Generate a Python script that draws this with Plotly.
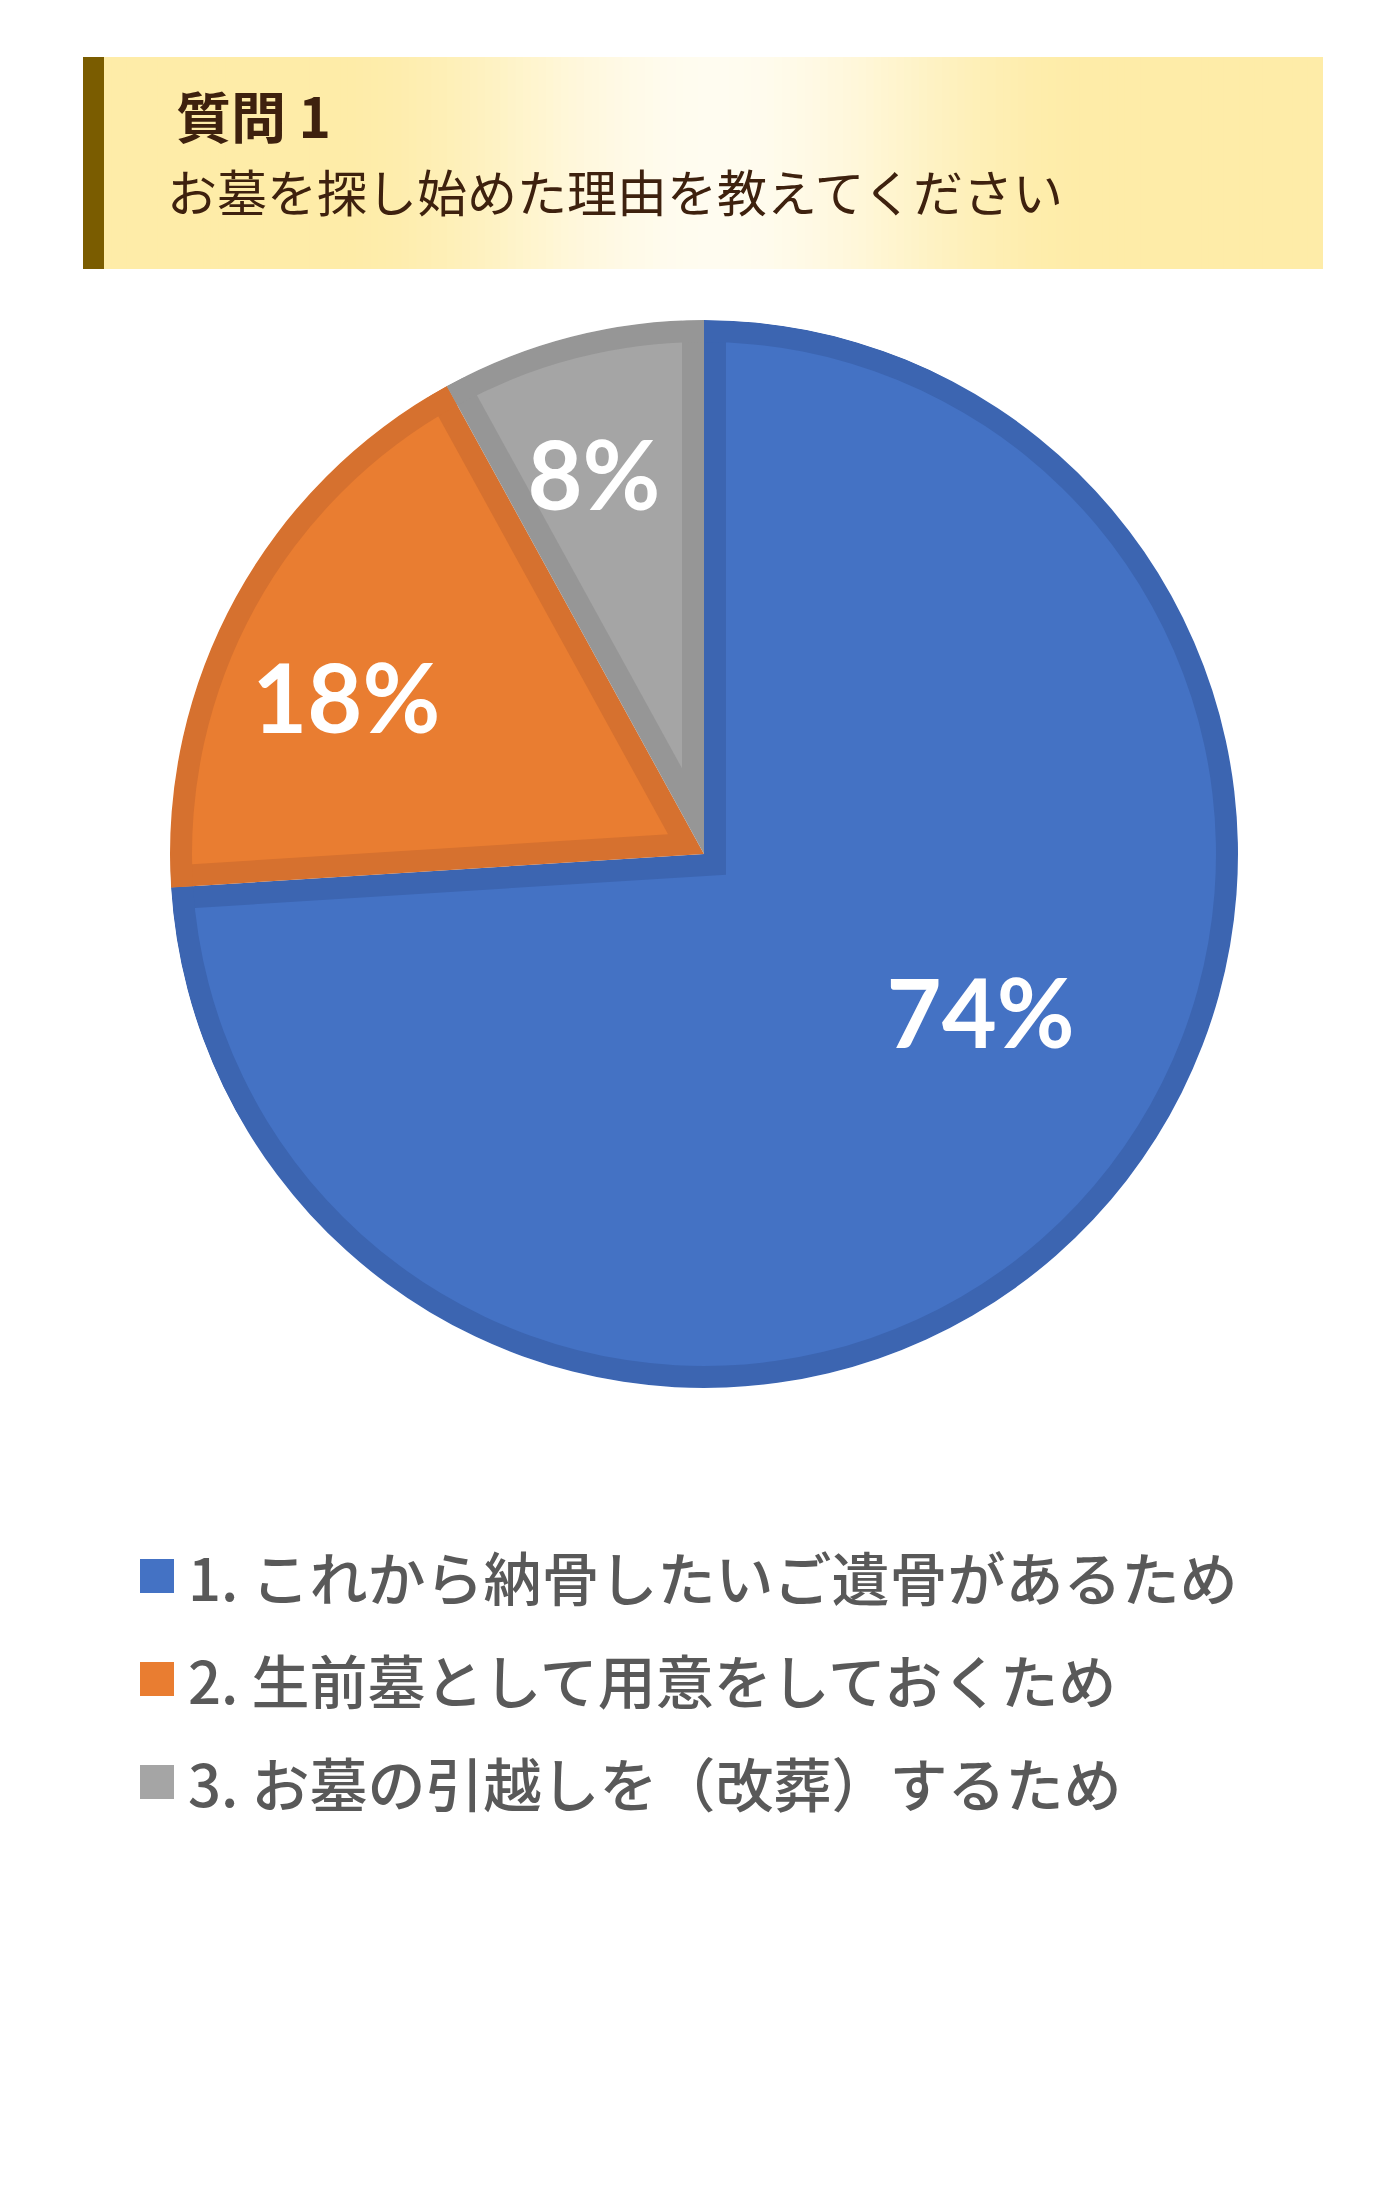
import math

import plotly.graph_objects as go

# ページは body の余白 8px 分ずれるので図を少し小さくして補正
PAGE_W, PAGE_H, BODY = 1400, 2197, 8
W, H = PAGE_W - 2 * BODY, PAGE_H - 2 * BODY

# === データ ===
labels = [
    "1. これから納骨したいご遺骨があるため",
    "2. 生前墓として用意をしておくため",
    "3. お墓の引越しを（改葬）するため",
]
values = [74, 18, 8]
pct_text = [f"{v}%" for v in values]

fill_colors = ["#4472c4", "#e97d31", "#a5a5a5"]
edge_colors = ["#3c65b1", "#d6712f", "#969696"]

title_main = "質問 1"
title_sub = "お墓を探し始めた理由を教えてください"

# === パイのジオメトリ (ページ上の px) ===
cx, cy, R, band = 704, 854, 534, 22
# ラベルの位置 (中心からの距離, 中央角からのずれ[度])
label_dist = [368, 391, 397]
label_turn = [-13.6, -5.0, -1.7]


def px(x):
    return (x - BODY) / W


def py(y):
    return 1 - (y - BODY) / H


def pie_domain(radius):
    return dict(x=[px(cx - radius), px(cx + radius)], y=[py(cy + radius), py(cy - radius)])


CLEAR = "rgba(0,0,0,0)"
n = len(values)
total = sum(values)
common = dict(
    values=values, labels=labels, sort=False, direction="clockwise",
    showlegend=False, hoverinfo="skip",
)

fig = go.Figure()

# (A) 縁取り用の濃い色のパイ
fig.add_trace(
    go.Pie(
        **common, rotation=0, textinfo="none",
        marker=dict(colors=edge_colors, line=dict(width=0)),
        domain=pie_domain(R),
    )
)

# (B) 明るい色のスライス: pull で内側へずらし、辺に沿った縁取りを作る
outer = R + 40
for i, v in enumerate(values):
    half = math.pi * v / total
    shift = band / math.sin(half)
    r_i = outer - shift
    fig.add_trace(
        go.Pie(
            **common, rotation=0, textinfo="none",
            marker=dict(
                colors=[fill_colors[i] if j == i else CLEAR for j in range(n)],
                line=dict(width=0),
            ),
            pull=[shift / r_i if j == i else 0 for j in range(n)],
            domain=pie_domain(outer),
        )
    )

# (C) 外周の縁取りリング
fig.add_trace(
    go.Pie(
        **common, rotation=0, textinfo="none", hole=(R - band) / R,
        marker=dict(colors=edge_colors, line=dict(width=0)),
        domain=pie_domain(R),
    )
)

# (D) はみ出しを隠す白いリング
fig.add_trace(
    go.Pie(
        **common, rotation=0, textinfo="none", hole=R / (R + 45),
        marker=dict(colors=["white"] * n, line=dict(width=0)),
        domain=pie_domain(R + 45),
    )
)

# (E) パーセント表示 (透明なスライスに文字だけ載せる)
for i, v in enumerate(values):
    half = math.pi * v / total
    r_ins = min(1 / (1 + 1 / math.sin(half)), 0.5)
    r_t = label_dist[i] / (1 - r_ins)
    fig.add_trace(
        go.Pie(
            **common, rotation=label_turn[i],
            marker=dict(colors=[CLEAR] * n, line=dict(width=0)),
            text=[pct_text[i] if j == i else "" for j in range(n)],
            textinfo="text",
            textposition=["inside" if j == i else "none" for j in range(n)],
            insidetextorientation="horizontal",
            textfont=dict(family="Lato", size=95, color="white", weight="bold"),
            domain=pie_domain(r_t),
        )
    )

# === ヘッダー (グラデーション帯) ===
shapes = []
box_x0, box_x1, box_y0, box_y1 = 104, 1323, 57, 269
mid = (box_x0 + box_x1) / 2
yellow = (254, 236, 168)
white = (255, 252, 240)
n_strips = 160
step = (box_x1 - box_x0) / n_strips
for k in range(n_strips):
    x0 = box_x0 + k * step
    xc = x0 + step / 2
    t = min(1.0, abs(xc - mid) / 380)
    t = t * t * (3 - 2 * t)
    c = tuple(round(white[m] * (1 - t) + yellow[m] * t) for m in range(3))
    shapes.append(
        dict(
            type="rect", xref="paper", yref="paper",
            x0=px(x0), x1=px(min(box_x1, x0 + step + 1)),
            y0=py(box_y1), y1=py(box_y0),
            fillcolor=f"rgb{c}", line=dict(width=0), layer="below",
        )
    )
shapes.append(
    dict(
        type="rect", xref="paper", yref="paper",
        x0=px(83), x1=px(box_x0), y0=py(box_y1), y1=py(box_y0),
        fillcolor="#7a5c00", line=dict(width=0), layer="below",
    )
)

annotations = [
    dict(
        text=title_main, x=px(174), y=py(114), xref="paper", yref="paper",
        xanchor="left", yanchor="middle", showarrow=False,
        font=dict(family="Noto Sans CJK JP", size=55, color="#3e210e", weight="bold"),
    ),
    dict(
        text=title_sub, x=px(165), y=py(190), xref="paper", yref="paper",
        xanchor="left", yanchor="middle", showarrow=False,
        font=dict(family="Noto Sans CJK JP", size=50, color="#3e210e"),
    ),
]

# === 凡例 (四角 + テキスト) ===
row0, row_gap, sq = 1576, 103, 34
for i, lab in enumerate(labels):
    yc = row0 + i * row_gap
    shapes.append(
        dict(
            type="rect", xref="paper", yref="paper",
            x0=px(140), x1=px(140 + sq), y0=py(yc + sq / 2), y1=py(yc - sq / 2),
            fillcolor=fill_colors[i], line=dict(width=0),
        )
    )
    annotations.append(
        dict(
            text=lab, x=px(186), y=py(yc), xref="paper", yref="paper",
            xanchor="left", yanchor="middle", showarrow=False,
            font=dict(family="Noto Sans CJK JP", size=58, color="#595959", weight=500),
        )
    )

fig.update_layout(
    width=W,
    height=H,
    autosize=False,
    margin=dict(l=0, r=0, t=0, b=0),
    paper_bgcolor="white",
    plot_bgcolor="white",
    shapes=shapes,
    annotations=annotations,
    showlegend=False,
)

fig.write_html("out.html")
